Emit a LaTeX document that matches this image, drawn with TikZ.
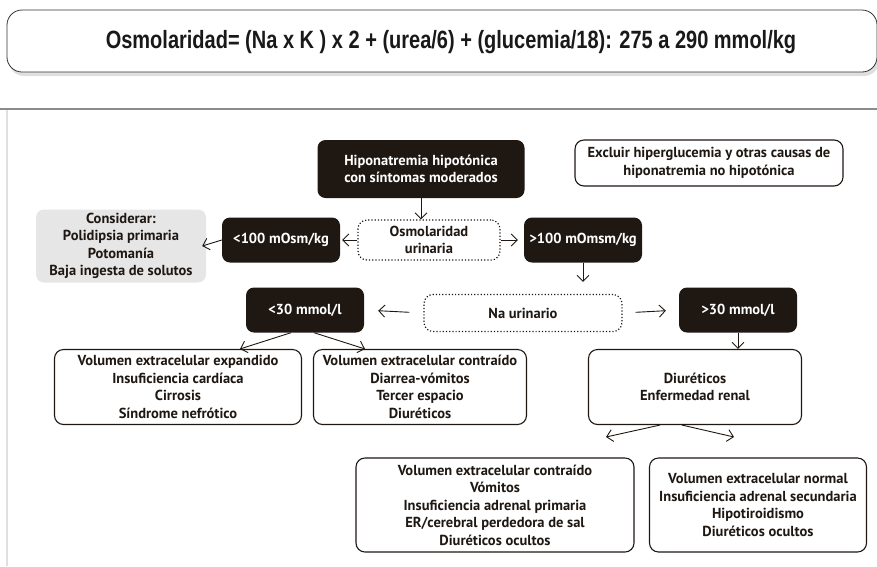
\documentclass[tikz,border=0pt]{standalone}
\usepackage{fontspec}
\setmainfont{PT Sans}
\newfontfamily\bannerfont{Liberation Sans}[FakeStretch=0.8]
\usetikzlibrary{arrows.meta,positioning,shadows,calc}
\definecolor{inkblack}{HTML}{1E1712}
\definecolor{softgrey}{HTML}{E6E6E6}
\definecolor{rulegrey}{HTML}{8C8C8C}

\begin{document}
\begin{tikzpicture}[x=1pt,y=-1pt,
  blk/.style={fill=inkblack,text=white,rounded corners=8pt,align=center,
              font=\fontsize{14.5}{17.5}\selectfont\bfseries,inner sep=0pt},
  wbox/.style={draw=inkblack,line width=1.1pt,rounded corners=9pt,align=center,
               font=\fontsize{14.5}{17.5}\selectfont\bfseries,text=inkblack,inner sep=0pt},
  dbox/.style={draw=inkblack,dotted,line width=1.2pt,rounded corners=9pt,align=center,
               font=\fontsize{14.5}{17.5}\selectfont\bfseries,text=inkblack,inner sep=0pt},
  gbox/.style={fill=softgrey,rounded corners=8pt,align=center,
               font=\fontsize{14.5}{17.5}\selectfont\bfseries,text=inkblack,inner sep=0pt},
  arr/.style={-{Straight Barb[length=6pt,width=12pt]},line width=0.9pt,draw=inkblack}
]
\useasboundingbox (0,0) rectangle (877,566);
% banner and rules
\node[draw=black!80,line width=0.8pt,fill=white,rounded corners=15pt,
      minimum width=870,minimum height=62,inner sep=0pt,
      drop shadow={opacity=0.25,shadow xshift=2pt,shadow yshift=-4pt}] (banner) at (442,41) {};
\node[font=\bannerfont\fontsize{25}{28}\selectfont\bfseries,text=black!90,inner sep=0pt]
     (formula) at (451,42)
     {Osmolaridad= (Na x K ) x 2 + (urea/6) + (glucemia/18): 275 a 290 mmol/kg};
\draw[rulegrey,line width=1.5pt] (0,109) -- (877,109);
\draw[black!12,line width=1.5pt] (7,110) -- (7,566);

\node[blk,minimum width=207,minimum height=58] (hipo) at (421,169)
     {Hiponatremia hipotónica\\con síntomas moderados};
\node[wbox,minimum width=268,minimum height=46] (excl) at (709,163)
     {Excluir hiperglucemia y otras causas de\\hiponatremia no hipotónica};
\node[dbox,minimum width=142,minimum height=40] (osmu) at (429,240)
     {Osmolaridad\\urinaria};
\node[blk,minimum width=118,minimum height=45] (lt100) at (281,240) {<100 mOsm/kg};
\node[blk,minimum width=118,minimum height=45] (gt100) at (583,240) {>100 mOmsm/kg};
\node[gbox,minimum width=170,minimum height=73] (cons) at (121,246)
     {Considerar:\\Polidipsia primaria\\Potomanía\\Baja ingesta de solutos};
\node[dbox,minimum width=198,minimum height=37] (nau) at (523,313) {Na urinario};
\node[blk,minimum width=118,minimum height=45] (lt30) at (305,310) {<30 mmol/l};
\node[blk,minimum width=118,minimum height=45] (gt30) at (738,310) {>30 mmol/l};
\node[wbox,minimum width=247,minimum height=75] (volexp) at (178,387)
     {Volumen extracelular expandido\\Insuficiencia cardíaca\\Cirrosis\\Síndrome nefrótico};
\node[wbox,minimum width=213,minimum height=75] (volcon) at (420,387)
     {Volumen extracelular contraído\\Diarrea-vómitos\\Tercer espacio\\Diuréticos};
\node[wbox,minimum width=213,minimum height=75] (diur) at (695,387)
     {Diuréticos\\Enfermedad renal};
\node[wbox,minimum width=278,minimum height=94] (bcon) at (495,505)
     {Volumen extracelular contraído\\Vómitos\\Insuficiencia adrenal primaria\\ER/cerebral perdedora de sal\\Diuréticos ocultos};
\node[wbox,minimum width=217,minimum height=94] (bnor) at (758,505)
     {Volumen extracelular normal\\Insuficiencia adrenal secundaria\\Hipotiroidismo\\Diuréticos ocultos};
\coordinate (tipa) at (606,437);
\coordinate (tipb) at (734,437);

\draw[arr] (hipo.south) -- (hipo.south |- osmu.north);
\draw[arr] (osmu.west) -- ([xshift=2pt]lt100.east);
\draw[arr] (lt100.west) -- ([xshift=-4pt]cons.east);
\draw[arr] (osmu.east) -- ([xshift=-6pt]gt100.west);
\draw[arr,shorten >=12pt] (gt100.south) -- (gt100.south |- nau.north);
\draw[arr,shorten <=14pt,shorten >=14pt] (nau.west) -- (lt30.east);
\draw[arr,shorten <=13pt,shorten >=13pt] (nau.east) -- (gt30.west);
\draw[arr] (gt30.south) -- (gt30.south |- diur.north);
\draw[arr] ([xshift=-14pt]lt30.south) -- ([xshift=62pt]volexp.north);
\draw[arr] ([xshift=9pt]lt30.south) -- ([xshift=-55pt]volcon.north);
\draw[arr] ([xshift=-35pt]diur.south) -- (tipa);
\draw[arr] ([xshift=-13pt]diur.south) -- (tipb);
\end{tikzpicture}
\end{document}
